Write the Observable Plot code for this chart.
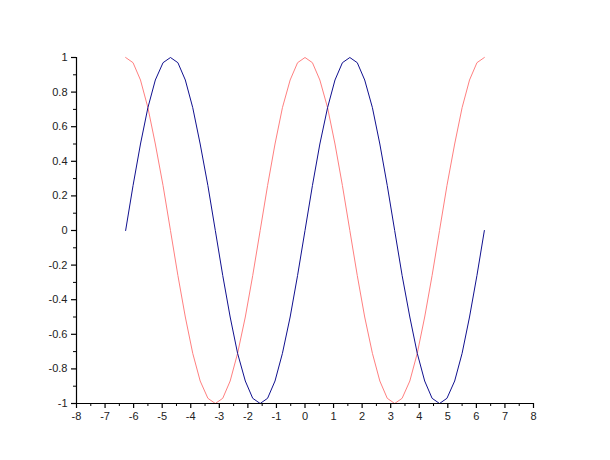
<!DOCTYPE html>
<html>
<head>
<meta charset="utf-8">
<script src="https://cdn.jsdelivr.net/npm/d3@7"></script>
<script src="https://cdn.jsdelivr.net/npm/@observablehq/plot@0.6"></script>
<style>
  html, body { margin: 0; padding: 0; background: #fff; }
</style>
</head>
<body>
<div id="chart"></div>
<script>
// x samples (-2π .. 2π)
const xs = [-6.28, -6.02, -5.76, -5.50, -5.24, -4.97, -4.71, -4.45, -4.19, -3.93, -3.67, -3.40,
            -3.14, -2.88, -2.62, -2.36, -2.09, -1.83, -1.57, -1.31, -1.05, -0.79, -0.52, -0.26,
             0.00,  0.26,  0.52,  0.79,  1.05,  1.31,  1.57,  1.83,  2.09,  2.36,  2.62,  2.88,
             3.14,  3.40,  3.67,  3.93,  4.19,  4.45,  4.71,  4.97,  5.24,  5.50,  5.76,  6.02, 6.28];
// dark blue series
const blueY = [0, 0.26, 0.5, 0.71, 0.87, 0.97, 1, 0.97, 0.87, 0.71, 0.5, 0.26,
               0, -0.26, -0.5, -0.71, -0.87, -0.97, -1, -0.97, -0.87, -0.71, -0.5, -0.26,
               0, 0.26, 0.5, 0.71, 0.87, 0.97, 1, 0.97, 0.87, 0.71, 0.5, 0.26,
               0, -0.26, -0.5, -0.71, -0.87, -0.97, -1, -0.97, -0.87, -0.71, -0.5, -0.26, 0];
// salmon series
const pinkY = [1, 0.97, 0.87, 0.71, 0.5, 0.26, 0, -0.26, -0.5, -0.71, -0.87, -0.97,
               -1, -0.97, -0.87, -0.71, -0.5, -0.26, 0, 0.26, 0.5, 0.71, 0.87, 0.97,
               1, 0.97, 0.87, 0.71, 0.5, 0.26, 0, -0.26, -0.5, -0.71, -0.87, -0.97,
               -1, -0.97, -0.87, -0.71, -0.5, -0.26, 0, 0.26, 0.5, 0.71, 0.87, 0.97, 1];

// tick labels
const xTicks = [-8, -7, -6, -5, -4, -3, -2, -1, 0, 1, 2, 3, 4, 5, 6, 7, 8];
const xMinor = [-7.5, -6.5, -5.5, -4.5, -3.5, -2.5, -1.5, -0.5, 0.5, 1.5, 2.5, 3.5, 4.5, 5.5, 6.5, 7.5];
const yTicks = [-1, -0.8, -0.6, -0.4, -0.2, 0, 0.2, 0.4, 0.6, 0.8, 1];
const yMinor = [-0.9, -0.7, -0.5, -0.3, -0.1, 0.1, 0.3, 0.5, 0.7, 0.9];

const blueData = xs.map((x, i) => ({x, y: blueY[i]}));
const pinkData = xs.map((x, i) => ({x, y: pinkY[i]}));

const chart = Plot.plot({
  width: 610,
  height: 460,
  marginLeft: 76,
  marginRight: 77,
  marginTop: 57,
  marginBottom: 57,
  style: {fontFamily: "'Liberation Sans', Arial, sans-serif", fontSize: "11px", color: "#222", background: "#fff"},
  x: {domain: [-8, 8]},
  y: {domain: [-1, 1]},
  marks: [
    Plot.line(pinkData, {x: "x", y: "y", stroke: "#ff8080", strokeWidth: 1}),
    Plot.line(blueData, {x: "x", y: "y", stroke: "#10108f", strokeWidth: 1}),
    Plot.ruleY([-1], {stroke: "#000", strokeWidth: 1.2}),
    Plot.ruleX([-8], {stroke: "#000", strokeWidth: 1.2}),
    Plot.axisX({ticks: xTicks, tickSize: 5, tickPadding: 4, tickFormat: d => String(d), label: null, stroke: "#000", strokeWidth: 1.2}),
    Plot.axisX({ticks: xMinor, tickSize: 3, tickFormat: null, text: null, label: null, stroke: "#000"}),
    Plot.axisY({ticks: yTicks, tickSize: 5, tickPadding: 4, tickFormat: d => String(d), label: null, stroke: "#000", strokeWidth: 1.2}),
    Plot.axisY({ticks: yMinor, tickSize: 3, tickFormat: null, text: null, label: null, stroke: "#000"})
  ]
});
document.getElementById("chart").appendChild(chart);
</script>
</body>
</html>
